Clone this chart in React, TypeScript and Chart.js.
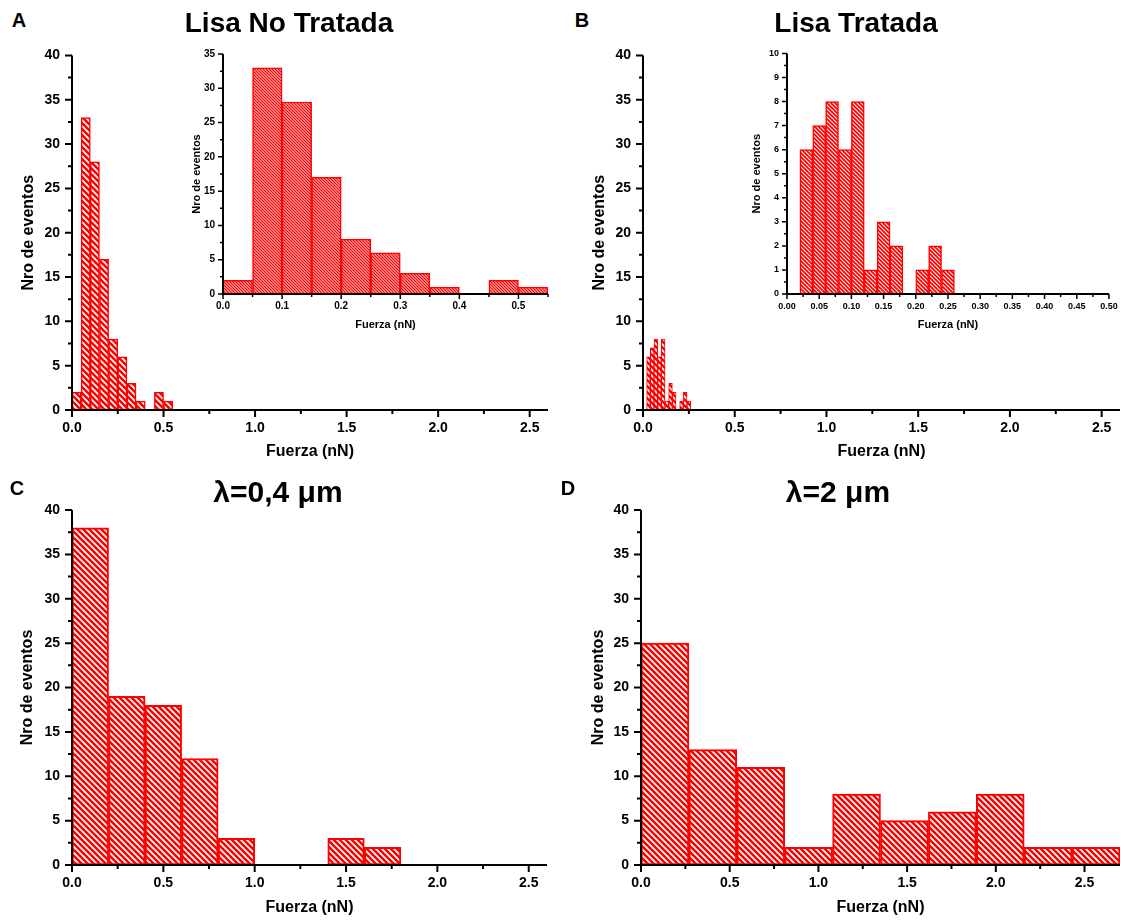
import React, { useEffect, useRef } from "react";
import { Chart, registerables } from "chart.js";

Chart.register(...registerables);

// ---------------- DATA ----------------
// A: Lisa No Tratada (main + inset share the same histogram)
const lisaNoTratadaBinStart = [0, 0.05, 0.1, 0.15, 0.2, 0.25, 0.3, 0.35, 0.4, 0.45, 0.5];
const lisaNoTratadaCounts = [2, 33, 28, 17, 8, 6, 3, 1, 0, 2, 1];
const lisaNoTratadaBinWidth = 0.05;

// B: Lisa Tratada
const lisaTratadaBinStart = [0.02, 0.04, 0.06, 0.08, 0.1, 0.12, 0.14, 0.16, 0.18, 0.2, 0.22, 0.24];
const lisaTratadaCounts = [6, 7, 8, 6, 8, 1, 3, 2, 0, 1, 2, 1];
const lisaTratadaBinWidth = 0.02;

// C: lambda = 0,4 um
const lambda04BinStart = [0, 0.2, 0.4, 0.6, 0.8, 1.0, 1.2, 1.4, 1.6];
const lambda04Counts = [38, 19, 18, 12, 3, 0, 0, 3, 2];
const lambda04BinWidth = 0.2;

// D: lambda = 2 um
const lambda2BinStart = [0, 0.27, 0.54, 0.81, 1.08, 1.35, 1.62, 1.89, 2.16, 2.43];
const lambda2Counts = [25, 13, 11, 2, 8, 5, 6, 8, 2, 2];
const lambda2BinWidth = 0.27;

// Axis texts
const xAxisTitle = "Fuerza (nN)";
const yAxisTitle = "Nro de eventos";
const titleA = "Lisa No Tratada";
const titleB = "Lisa Tratada";
const titleC = "λ=0,4 μm";
const titleD = "λ=2 μm";

const FONT = "'Liberation Sans', Arial, Helvetica, sans-serif";
const RED = "#ff0000";

function toPoints(starts: number[], counts: number[], w: number) {
  return starts.map((s, i) => ({ x: s + w / 2, y: counts[i] }));
}

function makeHatch(ctx: CanvasRenderingContext2D, period: number, lw: number) {
  const c = document.createElement("canvas");
  c.width = period;
  c.height = period;
  const g = c.getContext("2d")!;
  g.fillStyle = "#ffffff";
  g.fillRect(0, 0, period, period);
  g.strokeStyle = RED;
  g.lineWidth = lw;
  g.beginPath();
  for (const c0 of [-period, 0, period]) {
    g.moveTo(-period, -period + c0);
    g.lineTo(2 * period, 2 * period + c0);
  }
  g.stroke();
  return ctx.createPattern(c, "repeat");
}

const axisMarks = {
  id: "axisMarks",
  afterDatasetsDraw(chart: any, _args: any, opts: any) {
    const { ctx, chartArea: a } = chart;
    const xs = chart.scales.x;
    const ys = chart.scales.y;
    const isMajor = (v: number, m: number) => Math.abs(v / m - Math.round(v / m)) < 1e-6;
    ctx.save();
    ctx.strokeStyle = "#000";
    ctx.lineWidth = opts.tickWidth;
    ctx.beginPath();
    const nx = Math.round(xs.max / opts.xMinor);
    for (let k = 0; k <= nx; k++) {
      const v = k * opts.xMinor;
      if (v > xs.max + 1e-9) break;
      const px = xs.getPixelForValue(v);
      ctx.moveTo(px, a.bottom);
      ctx.lineTo(px, a.bottom + (isMajor(v, opts.xMajor) ? opts.majorLen : opts.minorLen));
    }
    const ny = Math.round(ys.max / opts.yMinor);
    for (let k = 0; k <= ny; k++) {
      const v = k * opts.yMinor;
      if (v > ys.max + 1e-9) break;
      const py = ys.getPixelForValue(v);
      ctx.moveTo(a.left, py);
      ctx.lineTo(a.left - (isMajor(v, opts.yMajor) ? opts.majorLen : opts.minorLen), py);
    }
    ctx.stroke();
    ctx.lineWidth = opts.axisWidth;
    ctx.beginPath();
    ctx.moveTo(a.left, a.top);
    ctx.lineTo(a.left, a.bottom);
    ctx.lineTo(a.right, a.bottom);
    ctx.stroke();
    ctx.restore();
  },
};

type PanelCfg = {
  left: number; top: number; w: number; h: number;
  areaL: number; areaT: number; areaR: number; areaB: number;
  xMax: number; xMajor: number; xMinor: number; xDecimals: number;
  yMax: number; yMajor: number; yMinor: number;
  starts: number[]; counts: number[]; binWidth: number;
  tickFont: number; titleFont: number;
  xTickPad: number; yTickPad: number; xTitlePad: number; yTitlePad: number;
  majorLen: number; minorLen: number; axisWidth: number; tickWidth: number;
  hatchPeriod: number; hatchWidth: number; barBorder: number;
};

function Panel({ cfg }: { cfg: PanelCfg }) {
  const ref = useRef<HTMLCanvasElement>(null);
  useEffect(() => {
    const canvas = ref.current!;
    const ctx = canvas.getContext("2d")!;
    const pattern = makeHatch(ctx, cfg.hatchPeriod, cfg.hatchWidth);
    const yW = cfg.areaL - cfg.left;
    const xH = cfg.top + cfg.h - cfg.areaB;
    const chart = new Chart(canvas, {
      type: "bar",
      data: {
        datasets: [
          {
            data: toPoints(cfg.starts, cfg.counts, cfg.binWidth) as any,
            backgroundColor: pattern as any,
            borderColor: RED,
            borderWidth: cfg.barBorder,
            borderSkipped: false,
            barPercentage: 1,
            categoryPercentage: 1,
          },
        ],
      },
      plugins: [axisMarks],
      options: {
        animation: false,
        responsive: false,
        maintainAspectRatio: false,
        events: [],
        layout: {
          padding: {
            left: 0,
            top: cfg.areaT - cfg.top,
            right: cfg.left + cfg.w - cfg.areaR,
            bottom: 0,
          },
        },
        plugins: {
          legend: { display: false },
          tooltip: { enabled: false },
          axisMarks: {
            xMajor: cfg.xMajor, xMinor: cfg.xMinor,
            yMajor: cfg.yMajor, yMinor: cfg.yMinor,
            majorLen: cfg.majorLen, minorLen: cfg.minorLen,
            axisWidth: cfg.axisWidth, tickWidth: cfg.tickWidth,
          },
        } as any,
        scales: {
          x: {
            type: "linear",
            min: 0,
            max: cfg.xMax,
            offset: false,
            grid: { display: false, drawTicks: false },
            border: { display: false },
            ticks: {
              stepSize: cfg.xMajor,
              includeBounds: false,
              autoSkip: false,
              maxRotation: 0,
              padding: cfg.xTickPad,
              color: "#000",
              font: { family: FONT, size: cfg.tickFont, weight: "bold" },
              callback: (v: any) => Number(v).toFixed(cfg.xDecimals),
            },
            title: {
              display: true,
              text: xAxisTitle,
              color: "#000",
              font: { family: FONT, size: cfg.titleFont, weight: "bold" },
              padding: { top: 0, bottom: cfg.xTitlePad },
            },
            afterFit: (s: any) => { s.height = xH; },
          },
          y: {
            type: "linear",
            min: 0,
            max: cfg.yMax,
            grid: { display: false, drawTicks: false },
            border: { display: false },
            ticks: {
              stepSize: cfg.yMajor,
              includeBounds: false,
              autoSkip: false,
              padding: cfg.yTickPad,
              color: "#000",
              font: { family: FONT, size: cfg.tickFont, weight: "bold" },
              callback: (v: any) => String(Math.round(Number(v))),
            },
            title: {
              display: true,
              text: yAxisTitle,
              color: "#000",
              font: { family: FONT, size: cfg.titleFont, weight: "bold" },
              padding: { top: cfg.yTitlePad, bottom: 0 },
            },
            afterFit: (s: any) => { s.width = yW; },
          },
        },
      } as any,
    });
    return () => chart.destroy();
  }, []);
  return (
    <canvas
      ref={ref}
      width={cfg.w}
      height={cfg.h}
      style={{ position: "absolute", left: cfg.left, top: cfg.top, width: cfg.w, height: cfg.h }}
    />
  );
}

const mainStyle = {
  xMajor: 0.5, xMinor: 0.25, xDecimals: 1,
  yMax: 40, yMajor: 5, yMinor: 2.5,
  tickFont: 14, titleFont: 16,
  yTickPad: 12,
  majorLen: 7, minorLen: 4, axisWidth: 2, tickWidth: 2,
  hatchPeriod: 6, hatchWidth: 2.5,
};

const panelA: PanelCfg = {
  ...mainStyle,
  left: 0, top: 35, w: 560, h: 430,
  areaL: 72, areaT: 55, areaR: 548, areaB: 410,
  xMax: 2.6,
  starts: lisaNoTratadaBinStart, counts: lisaNoTratadaCounts, binWidth: lisaNoTratadaBinWidth,
  xTickPad: 10, xTitlePad: 3.7, yTitlePad: 19,
  barBorder: 1.5,
};

const panelB: PanelCfg = {
  ...mainStyle,
  left: 560, top: 35, w: 565, h: 430,
  areaL: 643, areaT: 55, areaR: 1120, areaB: 410,
  xMax: 2.6,
  starts: lisaTratadaBinStart, counts: lisaTratadaCounts, binWidth: lisaTratadaBinWidth,
  xTickPad: 10, xTitlePad: 3.4, yTitlePad: 30,
  barBorder: 1,
};

const panelC: PanelCfg = {
  ...mainStyle,
  left: 0, top: 470, w: 560, h: 453,
  areaL: 72, areaT: 510, areaR: 547, areaB: 865,
  xMax: 2.6,
  starts: lambda04BinStart, counts: lambda04Counts, binWidth: lambda04BinWidth,
  xTickPad: 9.3, xTitlePad: 5.4, yTitlePad: 18.2,
  barBorder: 2,
};

const panelD: PanelCfg = {
  ...mainStyle,
  left: 560, top: 470, w: 565, h: 453,
  areaL: 641, areaT: 510, areaR: 1120, areaB: 865,
  xMax: 2.7,
  starts: lambda2BinStart, counts: lambda2Counts, binWidth: lambda2BinWidth,
  xTickPad: 9.3, xTitlePad: 5.4, yTitlePad: 29.4,
  barBorder: 2,
};

const insetA: PanelCfg = {
  left: 180, top: 40, w: 380, h: 295,
  areaL: 223, areaT: 53, areaR: 548, areaB: 294,
  xMax: 0.55, xMajor: 0.1, xMinor: 0.05, xDecimals: 1,
  yMax: 35, yMajor: 5, yMinor: 2.5,
  starts: lisaNoTratadaBinStart, counts: lisaNoTratadaCounts, binWidth: lisaNoTratadaBinWidth,
  tickFont: 10, titleFont: 11,
  xTickPad: 6.7, yTickPad: 8, xTitlePad: 3.4, yTitlePad: 10.1,
  majorLen: 5, minorLen: 3, axisWidth: 2, tickWidth: 1.5,
  hatchPeriod: 3, hatchWidth: 1.4, barBorder: 1.5,
};

const insetB: PanelCfg = {
  left: 740, top: 40, w: 385, h: 295,
  areaL: 787, areaT: 53, areaR: 1112, areaB: 294,
  xMax: 0.5, xMajor: 0.05, xMinor: 0.025, xDecimals: 2,
  yMax: 10, yMajor: 1, yMinor: 0.5,
  starts: lisaTratadaBinStart, counts: lisaTratadaCounts, binWidth: lisaTratadaBinWidth,
  tickFont: 9, titleFont: 11,
  xTickPad: 7.3, yTickPad: 8, xTitlePad: 3.4, yTitlePad: 10.1,
  majorLen: 5, minorLen: 3, axisWidth: 2, tickWidth: 1.5,
  hatchPeriod: 4, hatchWidth: 1.8, barBorder: 1.5,
};

function Label({ text, x, y, size }: { text: string; x: number; y: number; size: number }) {
  return (
    <div
      style={{
        position: "absolute",
        left: x,
        top: y,
        transform: "translate(-50%, -50%)",
        fontFamily: FONT,
        fontWeight: "bold",
        fontSize: size,
        lineHeight: 1,
        whiteSpace: "nowrap",
        color: "#000",
      }}
    >
      {text}
    </div>
  );
}

export default function App() {
  return (
    <div
      style={{
        position: "absolute",
        left: 0,
        top: 0,
        width: 1125,
        height: 923,
        background: "#fff",
        overflow: "hidden",
      }}
    >
      <Panel cfg={panelA} />
      <Panel cfg={panelB} />
      <Panel cfg={panelC} />
      <Panel cfg={panelD} />
      <Panel cfg={insetA} />
      <Panel cfg={insetB} />
      <Label text="A" x={19} y={20} size={20} />
      <Label text="B" x={582} y={20} size={20} />
      <Label text="C" x={17} y={488} size={20} />
      <Label text="D" x={568} y={488} size={20} />
      <Label text={titleA} x={289} y={23} size={28} />
      <Label text={titleB} x={856} y={23} size={28} />
      <Label text={titleC} x={278} y={492} size={30} />
      <Label text={titleD} x={838} y={492} size={30} />
    </div>
  );
}
